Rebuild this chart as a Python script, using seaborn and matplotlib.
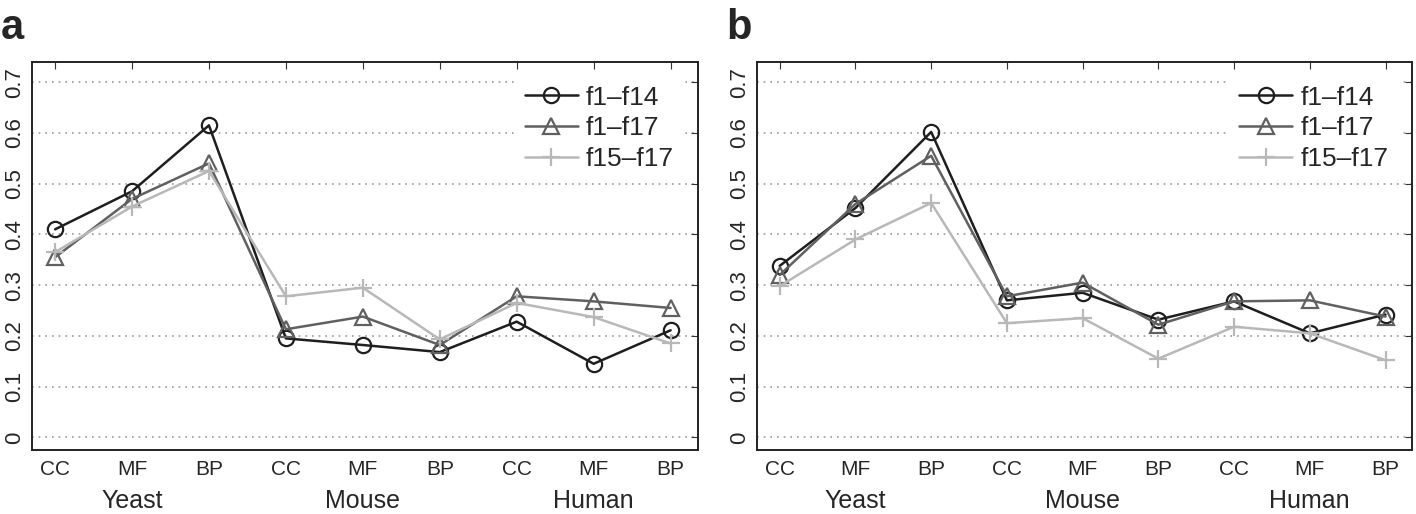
import numpy as np
import pandas as pd
import matplotlib.pyplot as plt
import matplotlib.transforms as mtransforms
import seaborn as sns

categories = ["CC", "MF", "BP", "CC", "MF", "BP", "CC", "MF", "BP"]
groups = ["Yeast", "Mouse", "Human"]
series_names = ["f1\u2013f14", "f1\u2013f17", "f15\u2013f17"]

# panel a
a_f1_f14 = [0.410, 0.485, 0.615, 0.195, 0.182, 0.168, 0.228, 0.145, 0.211]
a_f1_f17 = [0.355, 0.470, 0.540, 0.213, 0.238, 0.182, 0.278, 0.268, 0.255]
a_f15_f17 = [0.365, 0.455, 0.525, 0.278, 0.295, 0.193, 0.265, 0.237, 0.185]

# panel b
b_f1_f14 = [0.338, 0.452, 0.602, 0.270, 0.285, 0.232, 0.268, 0.205, 0.242]
b_f1_f17 = [0.320, 0.460, 0.555, 0.278, 0.305, 0.222, 0.268, 0.270, 0.238]
b_f15_f17 = [0.298, 0.390, 0.462, 0.225, 0.235, 0.155, 0.218, 0.205, 0.152]

yticks = [0, 0.1, 0.2, 0.3, 0.4, 0.5, 0.6, 0.7]

sns.set_style("white")
plt.rcParams['font.family'] = ['Liberation Sans', 'DejaVu Sans']

colors = ["#1e1e1e", "#606060", "#b8b8b8"]
markers = ["o", "^", "+"]


def make_df(vals):
    rows = []
    for name, v in zip(series_names, vals):
        for i, y in enumerate(v):
            rows.append({"pos": i + 1, "value": y, "series": name})
    return pd.DataFrame(rows)


def draw(ax, vals, letter):
    df = make_df(vals)
    for name, c, m in zip(series_names, colors, markers):
        sub = df[df["series"] == name]
        sns.lineplot(data=sub, x="pos", y="value", ax=ax, color=c, marker=m,
                     markersize=13 if m == "+" else 11, markerfacecolor="none",
                     markeredgecolor=c, markeredgewidth=1.6, linewidth=1.8,
                     label=name)
    ax.set_xlim(0.7, 9.35)
    ax.set_ylim(-0.025, 0.74)
    ax.set_xticks(range(1, 10))
    ax.set_xticklabels(categories, fontsize=15)
    ax.set_yticks(yticks)
    ax.set_yticklabels([f"{t:g}" for t in yticks], fontsize=16, rotation=90,
                       va="center")
    ax.yaxis.grid(True, linestyle=(0, (1, 3)), color="#999999", linewidth=1.2)
    ax.set_axisbelow(True)
    ax.tick_params(direction="in", top=True, right=True, length=5,
                   color="#333333")
    ax.tick_params(axis="y", pad=5)
    ax.tick_params(axis="x", pad=7)
    ax.set_xlabel("")
    ax.set_ylabel("")
    for s in ax.spines.values():
        s.set_color("#222222")
        s.set_linewidth(1.4)
    trans = mtransforms.blended_transform_factory(ax.transData,
                                                  ax.figure.transFigure)
    for j, g in enumerate(groups):
        ax.text(2 + 3 * j, 0.012, g, ha="center", va="baseline", fontsize=18,
                transform=trans)
    leg = ax.legend(loc="upper right", frameon=True, fontsize=19,
                    handlelength=2.0, handletextpad=0.3, borderaxespad=0.5,
                    labelspacing=0.25)
    leg.get_frame().set_edgecolor("white")
    leg.get_frame().set_facecolor("white")
    leg.get_frame().set_alpha(1.0)
    ax.figure.text(ax.get_position().x0 - 0.022, 0.985, letter, fontsize=30,
                   fontweight="bold", va="top", ha="left")


fig = plt.figure(figsize=(14.16, 5.14), dpi=100)
ax1 = fig.add_axes([0.0226, 0.1245, 0.470, 0.755])
ax2 = fig.add_axes([0.5346, 0.1245, 0.4626, 0.755])

draw(ax1, [a_f1_f14, a_f1_f17, a_f15_f17], "a")
draw(ax2, [b_f1_f14, b_f1_f17, b_f15_f17], "b")

fig.savefig("out.png", dpi=100)
plt.close()
